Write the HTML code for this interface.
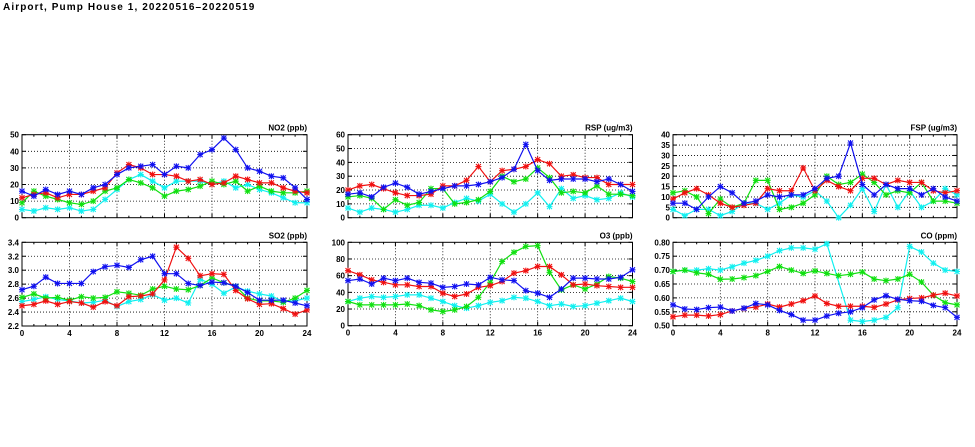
<!DOCTYPE html>
<html><head><meta charset="utf-8"><style>
body{margin:0;background:#fff;width:975px;height:447px;overflow:hidden}
svg{display:block}
text{font-family:"Liberation Sans",sans-serif;font-weight:bold;font-size:8px;fill:#000}
</style></head><body>
<svg id="s" width="975" height="447" xmlns="http://www.w3.org/2000/svg">
<text x="3" y="10" style="font-size:10px;letter-spacing:1.1px">Airport, Pump House 1, 20220516–20220519</text>
</svg>
<script>
const N=null;
const panels=[
{t:"NO2 (ppb)",x0:22,x1:307,y0:134.7,y1:217.7,min:0,max:50,step:10,dec:0,d:{
b:[16,13,17,14,16,14,18,20,26,30,31,32,26,31,30,38,41,48,41,30,28,25,24,18,11],
r:[12,14,15,12,14,14,16,18,27,32,30,26,26,25,22,23,20,21,25,23,21,21,18,16,15],
g:[9,16,13,11,9,8,10,16,18,23,21,18,13,16,17,19,22,20,22,16,19,16,15,15,16],
c:[5,4,6,5,6,4,5,11,17,23,26,22,18,22,22,22,20,22,18,20,17,15,12,9,9]}},
{t:"SO2 (ppb)",x0:22,x1:307,y0:242.3,y1:326,min:2.2,max:3.4,step:0.2,dec:1,d:{
b:[2.72,2.77,2.90,2.81,2.81,2.81,2.98,3.05,3.07,3.04,3.15,3.20,2.95,2.95,2.81,2.78,2.83,2.82,2.77,2.68,2.57,2.57,2.57,2.53,2.49],
r:[2.49,2.51,2.56,2.51,2.55,2.53,2.47,2.55,2.49,2.62,2.63,2.66,2.86,3.33,3.17,2.92,2.95,2.94,2.71,2.59,2.51,2.52,2.45,2.37,2.43],
g:[2.61,2.66,2.60,2.61,2.57,2.62,2.60,2.61,2.69,2.67,2.64,2.73,2.77,2.73,2.72,2.78,2.89,2.82,2.77,2.60,2.56,2.56,2.54,2.60,2.71],
c:[2.55,2.58,2.62,2.58,2.56,2.53,2.54,2.57,2.48,2.55,2.58,2.65,2.57,2.60,2.53,2.87,2.80,2.67,2.76,2.70,2.66,2.63,2.55,2.56,2.60]}},
{t:"RSP (ug/m3)",x0:348,x1:632.5,y0:134.7,y1:217.7,min:0,max:60,step:10,dec:0,d:{
b:[17,18,15,22,25,22,17,19,21,23,23,24,26,29,35,53,34,27,28,28,28,26,28,24,19],
r:[20,23,24,21,18,16,16,17,23,23,27,37,26,34,35,37,42,39,30,31,29,29,24,24,24],
g:[15,16,14,6,13,9,11,21,21,10,11,13,19,30,26,28,36,29,18,19,18,23,17,17,16],
c:[7,4,7,6,4,6,9,9,7,11,14,12,17,10,4,10,18,8,21,14,16,13,14,18,15]}},
{t:"O3 (ppb)",x0:348,x1:632.5,y0:242.3,y1:325.7,min:0,max:100,step:20,dec:0,d:{
b:[54,56,50,57,54,57,52,51,46,47,50,49,58,55,54,42,39,34,44,57,57,56,56,58,67],
r:[66,61,55,52,49,49,47,47,39,35,38,46,48,53,63,66,71,71,61,49,50,48,47,46,46],
g:[29,25,25,25,25,26,24,19,17,19,23,34,52,77,88,95,96,64,43,49,44,50,59,57,53],
c:[29,33,35,34,35,37,37,33,29,24,21,24,28,30,34,33,29,24,26,23,24,27,30,33,29]}},
{t:"FSP (ug/m3)",x0:673,x1:957,y0:134.7,y1:217.7,min:0,max:40,step:5,dec:0,d:{
b:[7,7,4,10,15,12,7,8,11,10,11,11,14,19,20,36,16,11,16,14,14,11,14,10,8],
r:[9,12,14,11,7,5,6,7,14,13,13,24,13,18,15,13,19,19,16,18,17,17,13,12,13],
g:[12,13,10,2,9,5,7,18,18,4,5,7,11,20,16,17,21,17,11,13,12,17,8,8,7],
c:[4,1,4,4,1,3,7,7,4,7,11,10,13,8,0,6,14,3,16,5,13,5,8,14,11]}},
{t:"CO (ppm)",x0:673,x1:957,y0:242.3,y1:325.7,min:0.5,max:0.8,step:0.05,dec:2,d:{
b:[.575,.56,.558,.565,.567,.553,.563,.58,.575,.555,.54,.52,.52,.535,.545,.55,.565,.593,.608,.595,.59,.588,.573,.565,.53],
r:[.532,.538,.538,.535,.54,.553,.562,.567,.578,.567,.578,.59,.607,.58,.57,.57,.57,.566,.578,.593,.598,.60,.61,.617,.607],
g:[.695,.70,.69,.685,.667,.668,.673,.68,.695,.713,.70,.688,.697,.688,.68,.685,.693,.668,.662,.668,.685,.657,.61,.583,.575],
c:[.695,.70,.70,.705,.70,.712,.725,.735,.75,.77,.78,.78,.775,.795,N,.52,.515,.52,.53,.565,.785,.765,.725,.70,.695]}}
];
const col={b:"#1010f0",r:"#f01010",g:"#10e010",c:"#10f0f0"};
let h="";
for(const p of panels){
 const X=i=>p.x0+(p.x1-p.x0)*i/24, Y=v=>p.y1-(p.y1-p.y0)*(v-p.min)/(p.max-p.min);
 h+=`<g>`;
 const n=Math.round((p.max-p.min)/p.step);
 for(let k=0;k<=n;k++){const v=p.min+k*p.step,y=Y(v);
  if(k>0&&k<n)h+=`<line x1="${p.x0}" x2="${p.x1}" y1="${y}" y2="${y}" stroke="#000" stroke-width="0.8" stroke-dasharray="1,2"/>`;
  h+=`<line x1="${p.x0}" x2="${p.x0+4}" y1="${y}" y2="${y}" stroke="#000"/><line x1="${p.x1-4}" x2="${p.x1}" y1="${y}" y2="${y}" stroke="#000"/>`;
  h+=`<text x="${p.x0-3}" y="${y+3}" text-anchor="end">${v.toFixed(p.dec)}</text>`;}
 for(let i=0;i<=24;i++){const x=X(i);
  if(i%4==0){ if(i>0&&i<24)h+=`<line x1="${x}" x2="${x}" y1="${p.y0}" y2="${p.y1}" stroke="#000" stroke-width="0.8" stroke-dasharray="1,2"/>`;
   h+=`<line x1="${x}" x2="${x}" y1="${p.y1}" y2="${p.y1-4}" stroke="#000"/><line x1="${x}" x2="${x}" y1="${p.y0}" y2="${p.y0+4}" stroke="#000"/>`;
   if(p.y0>200)h+=`<text x="${x}" y="${p.y1+10}" text-anchor="middle">${i}</text>`;}
  else h+=`<line x1="${x}" x2="${x}" y1="${p.y1}" y2="${p.y1-2}" stroke="#000"/><line x1="${x}" x2="${x}" y1="${p.y0}" y2="${p.y0+2}" stroke="#000"/>`;}
 h+=`<rect x="${p.x0}" y="${p.y0}" width="${p.x1-p.x0}" height="${p.y1-p.y0}" fill="none" stroke="#000" stroke-width="1"/>`;
 h+=`<text x="${p.x1}" y="${p.y0-4}" text-anchor="end">${p.t}</text>`;
 for(const k of ["c","g","r","b"]){const a=p.d[k];let pts=[],segs=[];
  a.forEach((v,i)=>{if(v===N){if(pts.length)segs.push(pts);pts=[];}else pts.push([X(i),Y(v)]);});
  if(pts.length)segs.push(pts);
  if(p.t.startsWith("CO")&&k=="c")segs=[segs.flat()];
  for(const s of segs)h+=`<polyline fill="none" stroke="${col[k]}" stroke-width="1.2" points="${s.map(q=>q.join(",")).join(" ")}"/>`;
  for(const s of segs)for(const [x,y] of s)h+=`<path d="M${x-2.5},${y-2.5}L${x+2.5},${y+2.5}M${x-2.5},${y+2.5}L${x+2.5},${y-2.5}M${x-3},${y}H${x+3}M${x},${y-3}V${y+3}" stroke="${col[k]}" stroke-width="1.1"/>`;}
 h+=`</g>`;
}
document.getElementById("s").insertAdjacentHTML("beforeend",h);
</script>
</body></html>
